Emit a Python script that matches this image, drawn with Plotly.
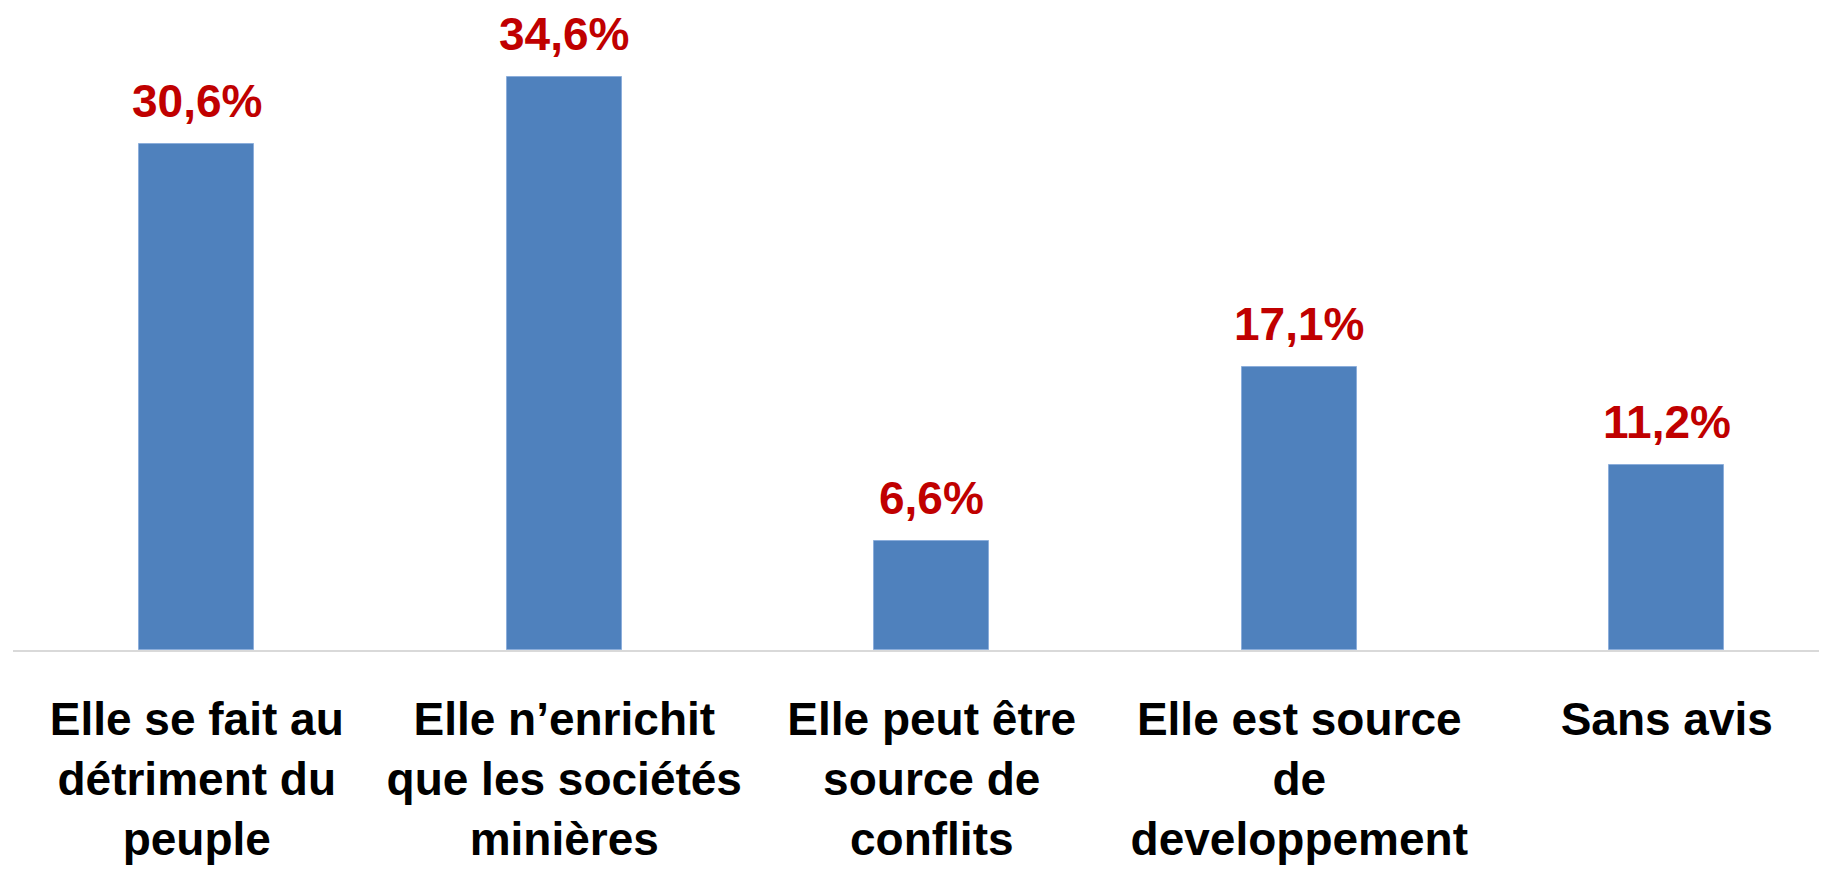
import plotly.graph_objects as go

categories = [
    "Elle se fait au<br>détriment du<br>peuple",
    "Elle n’enrichit<br>que les sociétés<br>minières",
    "Elle peut être<br>source de<br>conflits",
    "Elle est source<br>de<br>developpement",
    "Sans avis",
]
values = [30.6, 34.6, 6.6, 17.1, 11.2]
value_labels = ["30,6%", "34,6%", "6,6%", "17,1%", "11,2%"]

FONT = "Liberation Sans Narrow, Arial Narrow, Liberation Sans, Arial, sans-serif"

fig = go.Figure()
fig.add_trace(go.Bar(
    x=list(range(len(categories))),
    y=values,
    width=0.312,
    marker=dict(color="#4F81BD", line=dict(color="#8CAEDB", width=1)),
    hoverinfo="skip",
))

for i, (v, lab) in enumerate(zip(values, value_labels)):
    fig.add_annotation(
        x=i, y=v, text=f"<b>{lab}</b>", showarrow=False,
        yanchor="bottom", yshift=15,
        font=dict(family=FONT, size=46, color="#C00000"),
    )

# the page body adds an 8px margin, so the figure is sized to fit the window
fig.update_layout(
    width=1819, height=862,
    margin=dict(l=5, r=0, t=2, b=220, autoexpand=False),
    paper_bgcolor="white", plot_bgcolor="white",
    showlegend=False,
    bargap=0,
    xaxis=dict(
        range=[-0.5, 4.436],
        tickmode="array",
        tickvals=list(range(len(categories))),
        ticktext=[f"<b>{c}</b>" for c in categories],
        tickfont=dict(family=FONT, size=46, color="#000000"),
        showline=True, linecolor="#D9D9D9", linewidth=2,
        showgrid=False, zeroline=False, ticks="",
        ticklabelstandoff=28,
        automargin=False,
        fixedrange=True,
    ),
    yaxis=dict(
        range=[0, 38.67],
        visible=False, showgrid=False, zeroline=False,
        automargin=False,
        fixedrange=True,
    ),
)

fig.write_html("out.html")
